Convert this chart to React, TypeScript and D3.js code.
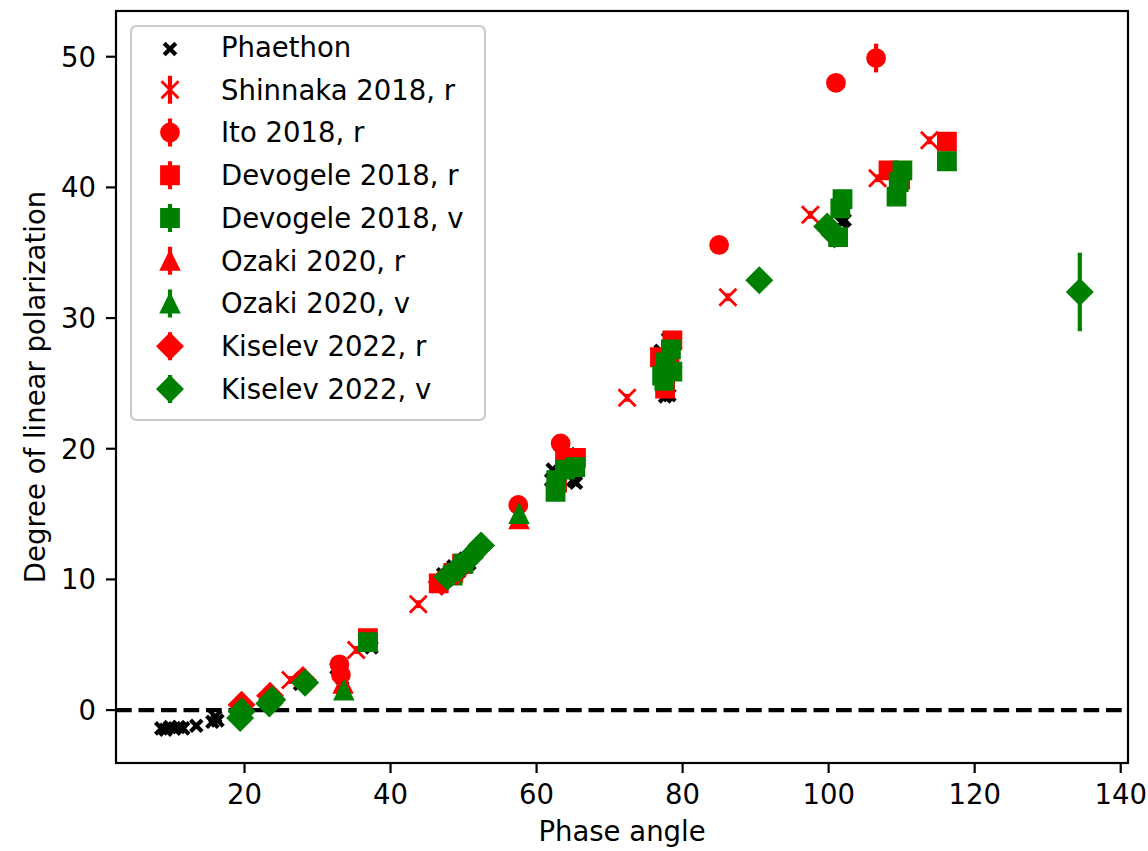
import * as d3 from 'd3';
import React from 'react';

// chart values: [phase angle, polarization, yerr]
const phaethon: number[][] = [
  [8.6, -1.4], [9.2, -1.5], [9.8, -1.3], [10.4, -1.4], [11.0, -1.3], [11.6, -1.4],
  [13.4, -1.2], [15.6, -0.9], [16.0, -0.5], [16.3, -0.8],
  [19.8, -0.3], [23.6, 0.9], [27.6, 2.0], [32.6, 3.2], [33.4, 2.4], [36.6, 5.2], [37.4, 4.8],
  [47.2, 10.4], [47.8, 10.0], [48.6, 11.0], [49.4, 10.6], [50.2, 11.6], [50.8, 11.2], [51.4, 12.0],
  [62.0, 17.6], [62.2, 18.4], [63.6, 19.3], [64.4, 19.6], [65.0, 17.6], [65.4, 17.4], [64.0, 18.8],
  [77.6, 24.0], [78.2, 24.1], [78.0, 28.4], [78.8, 28.5], [77.0, 27.5],
  [101.8, 37.3], [102.2, 37.5],
];

const shinnakaR = [
  [26.3, 2.3, 0.3], [35.3, 4.6, 0.3], [43.8, 8.1, 0.3], [72.4, 23.9, 0.3],
  [86.2, 31.6, 0.3], [97.5, 37.9, 0.3], [106.7, 40.7, 0.3], [113.8, 43.6, 0.3],
];

const itoR = [
  [33.0, 3.5, 0.4], [33.2, 2.7, 0.4], [57.5, 15.7, 0.3], [63.3, 20.4, 0.3],
  [85.0, 35.6, 0.3], [101.0, 48.0, 0.3], [106.5, 49.9, 1.1],
];

const devogeleR = [
  [36.9, 5.5, 0.3], [46.6, 9.7, 0.3], [48.6, 10.5, 0.3], [49.8, 11.2, 0.3],
  [62.8, 17.4, 0.3], [63.9, 19.1, 0.3], [65.4, 19.3, 0.3],
  [76.9, 27.0, 0.3], [77.6, 24.6, 0.3], [78.6, 28.3, 0.3], [78.2, 26.6, 0.3],
  [108.2, 41.3, 0.3], [109.8, 40.6, 0.3], [116.2, 43.5, 0.3],
];

const devogeleV = [
  [36.9, 5.2, 0.3], [48.5, 10.3, 0.3], [50.0, 11.2, 0.3],
  [62.6, 16.7, 0.3], [62.7, 17.6, 0.3], [63.9, 18.4, 0.3], [65.3, 18.6, 0.3],
  [77.2, 25.6, 0.3], [77.5, 25.2, 0.3], [77.6, 26.6, 0.3], [78.4, 27.6, 0.3], [78.6, 25.9, 0.3],
  [101.3, 36.2, 0.3], [101.6, 38.4, 0.3], [101.9, 39.1, 0.3],
  [109.3, 39.3, 0.3], [109.6, 40.4, 0.3], [110.1, 41.3, 0.3], [116.2, 42.0, 0.3],
];

const ozakiR = [[33.5, 2.0, 0.3], [57.6, 14.6, 0.3]];
const ozakiV = [[33.6, 1.5, 0.3], [57.6, 15.0, 0.3]];

const kiselevR = [
  [19.6, 0.4, 0.2], [23.5, 1.1, 0.2], [28.0, 2.3, 0.2], [47.0, 9.8, 0.2], [49.0, 10.6, 0.2],
];

const kiselevV = [
  [19.4, -0.6, 0.3], [19.6, -0.1, 0.3], [23.4, 0.5, 0.3], [23.8, 0.8, 0.3], [28.3, 2.1, 0.3],
  [47.8, 10.2, 0.3], [49.3, 10.9, 0.3], [50.9, 11.7, 0.3], [52.4, 12.6, 0.3],
  [90.5, 32.9, 0.3], [99.8, 37.0, 0.3], [100.8, 36.4, 0.3], [134.4, 32.0, 3.0],
];

const xTicks = [20, 40, 60, 80, 100, 120, 140];
const yTicks = [0, 10, 20, 30, 40, 50];

const RED = '#ff0000';
const GREEN = '#008000';

const series = [
  { name: 'Shinnaka 2018, r', data: shinnakaR, color: RED, marker: 'x' },
  { name: 'Ito 2018, r', data: itoR, color: RED, marker: 'o' },
  { name: 'Devogele 2018, r', data: devogeleR, color: RED, marker: 's' },
  { name: 'Devogele 2018, v', data: devogeleV, color: GREEN, marker: 's' },
  { name: 'Ozaki 2020, r', data: ozakiR, color: RED, marker: '^' },
  { name: 'Ozaki 2020, v', data: ozakiV, color: GREEN, marker: '^' },
  { name: 'Kiselev 2022, r', data: kiselevR, color: RED, marker: 'D' },
  { name: 'Kiselev 2022, v', data: kiselevV, color: GREEN, marker: 'D' },
];

const W = 1148, H = 851;
const left = 116, right = 1128, top = 11, bottom = 763;
const FONT = '"DejaVu Sans", sans-serif';
const FS = 27.5;
const MS = 17; // marker size in px (6pt)
const EW = 2.8; // marker edge width

function markerPath(m: string) {
  const h = MS / 2;
  if (m === 's') return `M${-h},${-h}H${h}V${h}H${-h}Z`;
  if (m === '^') return `M0,${-h}L${h},${h}L${-h},${h}Z`;
  if (m === 'D') {
    const d = h * Math.SQRT2;
    return `M0,${-d}L${d},0L0,${d}L${-d},0Z`;
  }
  if (m === 'x') return `M${-h},${-h}L${h},${h}M${-h},${h}L${h},${-h}`;
  return '';
}

function Marker({ m, color, x, y }: { m: string; color: string; x: number; y: number }) {
  if (m === 'o')
    return <circle cx={x} cy={y} r={MS / 2} fill={color} stroke={color} strokeWidth={EW} />;
  if (m === 'x')
    return <path d={markerPath('x')} transform={`translate(${x},${y})`} fill="none" stroke={color} strokeWidth={EW} />;
  return (
    <path d={markerPath(m)} transform={`translate(${x},${y})`} fill={color} stroke={color}
      strokeWidth={EW} strokeLinejoin="miter" />
  );
}

export default function App() {
  const x = d3.scaleLinear().domain([2.4, 141.0]).range([left, right]);
  const y = d3.scaleLinear().domain([-4.05, 53.5]).range([bottom, top]);

  const phPath = 'M-5.8,-5.8L5.8,5.8M-5.8,5.8L5.8,-5.8';

  const legendItems = [{ name: 'Phaethon', color: '#000', marker: 'ph' }, ...series];
  const legX = 131, legY = 26, legW = 354, legH = 394;
  const rowH = 42.75;

  return (
    <svg width={W} height={H} style={{ position: 'absolute', left: 0, top: 0, background: '#fff' }}
      fontFamily={FONT}>
      <rect width={W} height={H} fill="#fff" />
      <defs>
        <clipPath id="plot">
          <rect x={left} y={top} width={right - left} height={bottom - top} />
        </clipPath>
      </defs>

      <g clipPath="url(#plot)">
        {/* Phaethon scatter */}
        {phaethon.map((d, i) => (
          <path key={'ph' + i} d={phPath} transform={`translate(${x(d[0])},${y(d[1])})`}
            stroke="#000" strokeWidth={4.2} fill="none" />
        ))}
        {/* zero line */}
        <line x1={left} x2={right} y1={y(0)} y2={y(0)} stroke="#000" strokeWidth={4.2}
          strokeDasharray="15.7,6.8" />
        {series.map((s) => (
          <g key={s.name}>
            {s.data.map((d, i) => (
              <line key={'e' + i} x1={x(d[0])} x2={x(d[0])} y1={y(d[1] - d[2])} y2={y(d[1] + d[2])}
                stroke={s.color} strokeWidth={4.2} />
            ))}
            {s.data.map((d, i) => (
              <Marker key={'m' + i} m={s.marker} color={s.color} x={x(d[0])} y={y(d[1])} />
            ))}
          </g>
        ))}
      </g>

      {/* axes frame */}
      <rect x={left} y={top} width={right - left} height={bottom - top} fill="none" stroke="#000" strokeWidth={2.2} />

      {/* x ticks */}
      {xTicks.map((t) => (
        <g key={'xt' + t} transform={`translate(${x(t)},${bottom})`}>
          <line y2={10} stroke="#000" strokeWidth={2.2} />
          <text y={20} dy="0.76em" textAnchor="middle" fontSize={FS} fill="#000">{t}</text>
        </g>
      ))}
      {/* y ticks */}
      {yTicks.map((t) => (
        <g key={'yt' + t} transform={`translate(${left},${y(t)})`}>
          <line x2={-10} stroke="#000" strokeWidth={2.2} />
          <text x={-20} dy="0.36em" textAnchor="end" fontSize={FS} fill="#000">{t}</text>
        </g>
      ))}

      <text x={(left + right) / 2} y={841} textAnchor="middle" fontSize={FS} fill="#000">Phase angle</text>
      <text transform={`translate(45,${(top + bottom) / 2}) rotate(-90)`} textAnchor="middle"
        fontSize={FS} fill="#000">Degree of linear polarization</text>

      {/* legend */}
      <rect x={legX} y={legY} width={legW} height={legH} rx={5.5} fill="#fff" fillOpacity={0.8}
        stroke="#cccccc" strokeWidth={2.2} />
      {legendItems.map((it, i) => {
        const cy = legY + 21 + i * rowH;
        const cx = 170;
        return (
          <g key={'lg' + i}>
            {it.marker === 'ph' ? (
              <path d={phPath} transform={`translate(${cx},${cy + 2})`} stroke="#000" strokeWidth={4.2} fill="none" />
            ) : (
              <>
                <line x1={cx} x2={cx} y1={cy - 14} y2={cy + 14} stroke={it.color} strokeWidth={4.2} />
                <Marker m={it.marker} color={it.color} x={cx} y={cy} />
              </>
            )}
            <text x={221} y={cy} dy="0.36em" fontSize={FS} fill="#000">{it.name}</text>
          </g>
        );
      })}
    </svg>
  );
}
